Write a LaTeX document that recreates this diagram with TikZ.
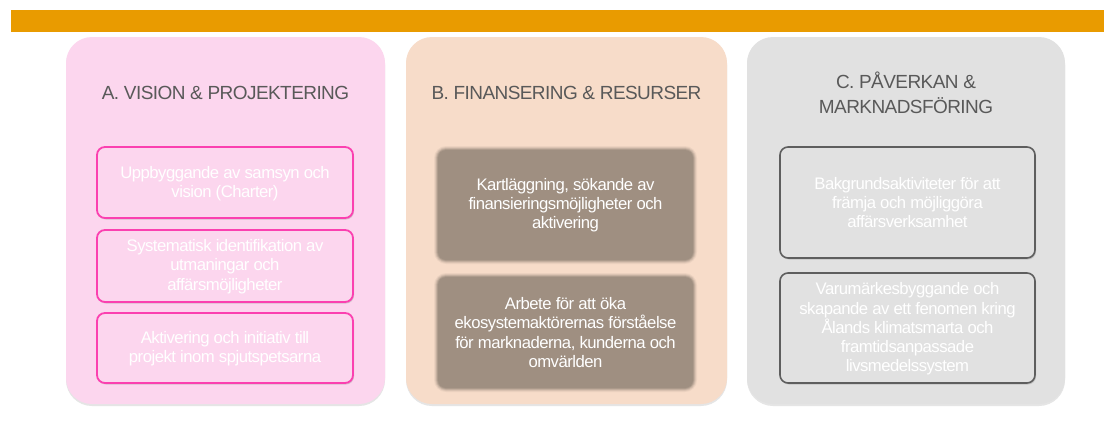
\documentclass[tikz,border=0pt]{standalone}
\usepackage{fontspec}
\setmainfont{Liberation Sans}
\newfontfamily\tightsans[LetterSpace=-3]{Liberation Sans}
\usetikzlibrary{shadows,calc}
\definecolor{barorange}{HTML}{E99B00}
\definecolor{pinkpanel}{HTML}{FCD6EE}
\definecolor{pinkborder}{HTML}{FB40B0}
\definecolor{peachpanel}{HTML}{F7DCC9}
\definecolor{brownbox}{HTML}{9F8F81}
\definecolor{graypanel}{HTML}{E1E1E1}
\definecolor{grayborder}{HTML}{5E5E5E}
\definecolor{titlegray}{HTML}{595959}
\tikzset{
  panel/.style={rounded corners=26pt, drop shadow={shadow xshift=0pt, shadow yshift=-2pt, opacity=0.25, fill=black!40}},
  paneltitle/.style={text=titlegray, font=\tightsans\fontsize{19}{25}\selectfont, align=center, inner sep=0pt},
  boxtext/.style={text=white, font=\tightsans\fontsize{16.7}{19.3}\selectfont, align=center, inner sep=0pt},
  pinkbox/.style={draw=pinkborder, line width=1.8pt, fill=pinkpanel, rounded corners=8pt, drop shadow={shadow xshift=1pt, shadow yshift=-1.5pt, opacity=0.3, fill=black!50}},
  graybox/.style={draw=grayborder, line width=1.6pt, fill=graypanel, rounded corners=8pt, drop shadow={shadow xshift=1pt, shadow yshift=-1.5pt, opacity=0.3, fill=black!50}},
}
\begin{document}
\begin{tikzpicture}[x=1pt,y=-1pt]
\useasboundingbox (0,0) rectangle (1104,432);
\fill[white] (0,0) rectangle (1104,432);
% top bar
\fill[barorange] (11,10) rectangle (1104,32);
% panels
\fill[pinkpanel, panel] (66,37) rectangle (385,404);
\fill[peachpanel, panel] (406,37) rectangle (727,404);
\fill[graypanel, panel] (747,37) rectangle (1065,404);
% titles
\node[paneltitle] (tA) at (225.5,93) {A. VISION \& PROJEKTERING};
\node[paneltitle] (tB) at (566.5,93) {B. FINANSERING \& RESURSER};
\node[paneltitle] (tC) at (906,92.5) {C. PÅVERKAN \&\\MARKNADSFÖRING};
% A boxes
\draw[pinkbox] (97,147) rectangle (353,218);
\node[boxtext] (a1) at (225,183.5) {Uppbyggande av samsyn och\\vision (Charter)};
\draw[pinkbox] (97,230) rectangle (353,302);
\node[boxtext] (a2) at (225,266.5) {Systematisk identifikation av\\utmaningar och\\affärsmöjligheter};
\draw[pinkbox] (97,313) rectangle (353,383);
\node[boxtext] (a3) at (225,348.5) {Aktivering och initiativ till\\projekt inom spjutspetsarna};
% B boxes with soft edges
\foreach \yy/\yb in {150/260, 277/388} {
  \foreach \i/\op in {4/0.12, 3/0.2, 2/0.35, 1/0.6} {
    \fill[brownbox, opacity=\op, rounded corners={8pt+\i pt}] (438-\i,\yy-\i) rectangle (693+\i,\yb+\i);
  }
  \fill[brownbox, rounded corners=8pt] (438,\yy) rectangle (693,\yb);
}
\node[boxtext] (b1) at (565.5,205) {Kartläggning, sökande av\\finansieringsmöjligheter och\\aktivering};
\node[boxtext] (b2) at (565.5,332.5) {Arbete för att öka\\ekosystemaktörernas förståelse\\för marknaderna, kunderna och\\omvärlden};
% C boxes
\draw[graybox] (780,147) rectangle (1035,258);
\node[boxtext] (c1) at (907.5,202.5) {Bakgrundsaktiviteter för att\\främja och möjliggöra\\affärsverksamhet};
\draw[graybox] (780,273) rectangle (1035,383);
\node[boxtext] (c2) at (907.5,329) {Varumärkesbyggande och\\skapande av ett fenomen kring\\Ålands klimatsmarta och\\framtidsanpassade\\livsmedelssystem};
\end{tikzpicture}
\end{document}
